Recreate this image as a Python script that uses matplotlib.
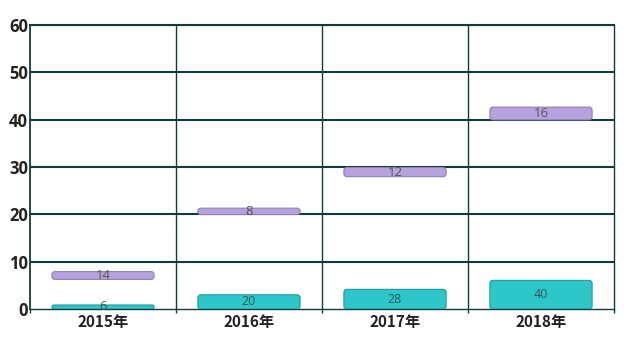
import matplotlib
matplotlib.use("Agg")
import matplotlib.pyplot as plt
from matplotlib.patches import FancyBboxPatch

categories = ["2015年", "2016年", "2017年", "2018年"]
teal_heights = [0.85, 3.0, 4.15, 6.05]
teal_labels = ["6", "20", "28", "40"]
# purple series (floating bars): bottoms, heights and labels
purple_bottoms = [6.25, 19.95, 27.95, 39.95]
purple_heights = [1.65, 1.35, 1.95, 2.7]
purple_labels = ["14", "8", "12", "16"]
y_ticks = [0, 10, 20, 30, 40, 50, 60]

plt.rcParams['font.family'] = ['Noto Sans CJK SC', 'DejaVu Sans']

W, H = 639, 352
fig = plt.figure(figsize=(W / 100, H / 100), dpi=100)
x0, x1, ytop, ybot = 30, 614, 25, 309
ax = fig.add_axes([x0 / W, 1 - ybot / H, (x1 - x0) / W, (ybot - ytop) / H])
ax.set_xlim(-0.5, 3.5)
ax.set_ylim(0, 60)

grid_c = "#123c3c"
for v in y_ticks[1:]:
    ax.axhline(v, color=grid_c, lw=1.5, zorder=1)
for b in [0.5, 1.5, 2.5]:
    ax.axvline(b, color=grid_c, lw=1.0, zorder=1)
for s in ["left", "right", "top", "bottom"]:
    ax.spines[s].set_color(grid_c)
ax.spines["left"].set_linewidth(1.3)
ax.spines["right"].set_linewidth(1.0)
ax.spines["top"].set_linewidth(1.5)
ax.spines["bottom"].set_linewidth(1.0)

px_x = (x1 - x0) / 4.0        # px per x unit
px_y = (ybot - ytop) / 60.0   # px per y unit
aspect = px_x / px_y
bw = 0.7


def rbar(xc, bottom, height, face, edge):
    r = min(3.0 / px_x, height / aspect / 2 * 0.95)
    p = FancyBboxPatch((xc - bw / 2, bottom), bw, height,
                       boxstyle=f"round,pad=0,rounding_size={r}",
                       mutation_aspect=aspect, facecolor=face,
                       edgecolor=edge, lw=0.8, zorder=3)
    ax.add_patch(p)


for i in range(len(categories)):
    rbar(i, 0, teal_heights[i], "#2ec7c9", "#1f9a9c")
    ax.text(i, teal_heights[i] / 2, teal_labels[i], ha="center", va="center",
            fontsize=9, color="#2b5b5c", family=["Open Sans", "DejaVu Sans"], zorder=4)
    rbar(i, purple_bottoms[i], purple_heights[i], "#b6a2de", "#8f80b0")
    ax.text(i, purple_bottoms[i] + purple_heights[i] / 2, purple_labels[i],
            ha="center", va="center", fontsize=9.5, color="#555555",
            family=["Open Sans", "DejaVu Sans"], zorder=4)

ax.set_yticks(y_ticks)
ax.set_yticklabels([str(v) for v in y_ticks], fontsize=12, fontweight="bold",
                   color="#222222", family=["Open Sans", "DejaVu Sans"])
ax.tick_params(axis="y", length=0, pad=1.5)

ax.set_xticks([-0.5, 0.5, 1.5, 2.5, 3.5])
ax.set_xticklabels([])
ax.tick_params(axis="x", which="major", length=3, color=grid_c, width=1)
ax.set_xticks(range(len(categories)), minor=True)
ax.set_xticklabels(categories, minor=True, fontsize=11, fontweight="bold", color="#222222")
ax.tick_params(axis="x", which="minor", length=0, pad=3.5)

fig.savefig("out.png", dpi=100)
